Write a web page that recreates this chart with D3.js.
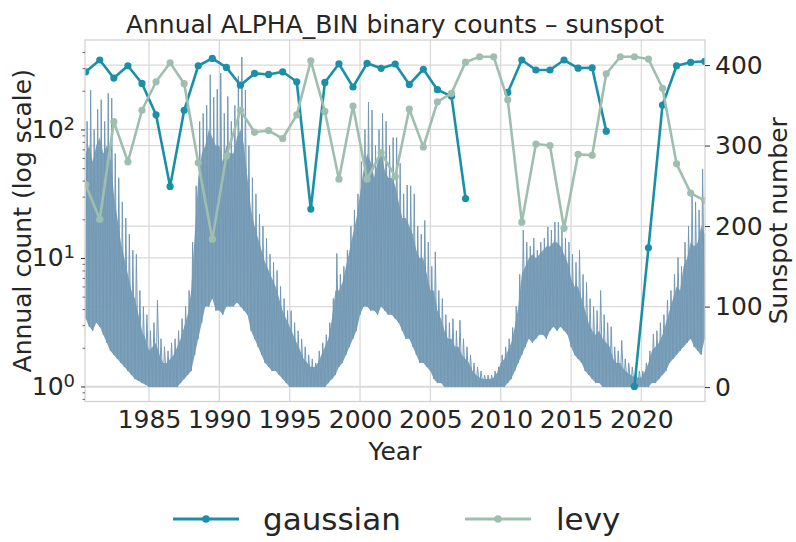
<!DOCTYPE html>
<html><head><meta charset="utf-8">
<script src="https://cdn.jsdelivr.net/npm/d3@7"></script>
<style>
body{margin:0;background:#fff;}
text{font-family:"DejaVu Sans",sans-serif;fill:#262626;}
</style>
</head><body>
<svg id="c" width="796" height="542"></svg>
<script>
// ---------- data ----------
const years = [1980,1981,1982,1983,1984,1985,1986,1987,1988,1989,
               1990,1991,1992,1993,1994,1995,1996,1997,1998,1999,
               2000,2001,2002,2003,2004,2005,2006,2007,2008,2009,
               2010,2011,2012,2013,2014,2015,2016,2017,2018,2019,
               2020,2021,2022,2023,2024];
const gaussian = [281,347,251,313,228,130,36,141,313,357,
                  304,221,273,268,281,235,24,232,324,214,
                  327,299,323,224,294,204,181,29,null,null,
                  194,347,290,290,347,300,302,97,null,1,
                  12,155,313,333,339];
const levy = [37,20,115,56,141,235,330,227,55,14,
              62,141,95,98,85,130,342,138,41,152,
              41,66,43,144,73,164,191,334,368,368,
              170,19,77,75,17,64,63,271,368,368,
              353,209,54,32,28];
// sunspot number, quarter-year samples from 1980.5:
// spike tops, top of the dense band, and bottom of the band
const sunStart = 1980.5, sunStep = 0.25;
const sunHigh = [330,369,
  320,345,357,330, 365,359,290,260, 230,210,190,170, 165,120,100,90,
  70,80,108,60, 50,45,55,60, 70,85,100,120, 180,250,330,340,
  350,388,360,370, 390,340,361,330, 350,386,410,369, 300,260,240,215,
  200,185,165,155, 145,125,110,95, 95,80,70,60, 50,40,35,30,
  45,55,65,80, 110,166,140,150, 170,200,220,240, 280,320,354,344,
  300,320,340,330, 300,310,310,278, 240,251,250,240, 200,190,207,180,
  150,168,120,110, 90,80,85,70, 83,60,50,40, 30,25,20,15,
  15,15,20,25, 40,50,60,74, 100,140,195,180, 175,185,170,180,
  185,199,195,205, 205,195,185,180, 165,155,170,140, 130,110,100,95,
  120,90,80,75, 50,45,58,35, 30,25,20,20, 20,30,45,66,
  70,80,90,108, 120,140,161,150, 180,200,240,230, 220,271,250];
const sunDense = [290,300,
  280,300,310,290, 300,290,240,210, 180,160,140,120, 110,90,70,60,
  45,50,55,40, 30,30,35,40, 50,60,75,90, 120,190,260,290,
  300,320,310,300, 300,280,300,290, 290,310,320,300, 260,220,200,185,
  170,155,145,135, 125,110,95,85, 75,65,55,45, 35,30,25,25,
  30,40,50,60, 85,120,120,130, 150,170,190,210, 240,270,290,280,
  260,280,290,270, 260,260,250,230, 210,210,200,190, 170,160,160,140,
  120,120,95,85, 70,60,60,50, 50,40,35,30, 20,15,12,10,
  10,10,12,18, 30,35,45,55, 75,100,140,150, 160,165,160,165,
  170,175,175,180, 180,175,165,155, 135,125,125,110, 95,80,70,65,
  70,60,55,50, 35,30,30,22, 18,15,12,12, 12,20,30,45,
  50,55,65,80, 95,110,125,120, 150,160,180,175, 180,200,190];
const sunLow = [85,75,
  70,80,75,65, 55,45,40,35, 30,25,20,15, 10,8,5,3,
  0,0,0,0, 0,0,0,0, 0,5,10,15, 20,40,60,80,
  100,100,110,95, 95,90,100,100, 100,105,100,95, 90,70,60,50,
  40,30,25,20, 20,15,10,5, 0,0,0,0, 0,0,0,0,
  0,0,0,5, 10,15,25,30, 40,50,60,70, 90,100,100,95,
  95,90,100,95, 90,90,85,80, 70,60,60,50, 40,30,30,25,
  20,10,5,5, 0,0,0,0, 0,0,0,0, 0,0,0,0,
  0,0,0,0, 0,0,5,10, 20,30,40,50, 60,55,60,65,
  65,60,70,75, 70,75,70,65, 50,40,35,30, 20,15,10,5,
  5,0,0,0, 0,0,0,0, 0,0,0,0, 0,0,0,5,
  5,10,15,20, 30,35,40,45, 50,55,60,50, 45,40,60];
const xTicks = [1985,1990,1995,2000,2005,2010,2015,2020];
const yLeftTicks = [1,10,100];
const yLeftExp = ["0","1","2"];
const yRightTicks = [0,100,200,300,400];
const seriesNames = ["gaussian","levy"];
const colors = {gaussian:"#1a8fa8", levy:"#9ebfb0", sun:"#7399b4"};

// ---------- layout ----------
const svg = d3.select("#c");
const m = {l:85, r:705, t:40, b:401.5};
const x = d3.scaleLinear().domain([1980.45, 2024.52]).range([m.l, m.r]);
const yL = d3.scaleLog().domain([Math.pow(10,-0.117), Math.pow(10,2.696)]).range([m.b, m.t]);
const yR = d3.scaleLinear().domain([-17.9, 431.1]).range([m.b, m.t]);
const gridCol = "#d9d9d9";

svg.append("defs").append("clipPath").attr("id","clip")
  .append("rect").attr("x",m.l).attr("y",m.t).attr("width",m.r-m.l).attr("height",m.b-m.t);

// grid
const grid = svg.append("g");
grid.selectAll(".gx").data(xTicks).join("line")
  .attr("x1",d=>x(d)).attr("x2",d=>x(d)).attr("y1",m.t).attr("y2",m.b)
  .attr("stroke",gridCol).attr("stroke-width",1.3);
grid.selectAll(".gl").data(yLeftTicks).join("line")
  .attr("x1",m.l).attr("x2",m.r).attr("y1",d=>yL(d)).attr("y2",d=>yL(d))
  .attr("stroke",gridCol).attr("stroke-width",1.3);
grid.selectAll(".gr").data(yRightTicks).join("line")
  .attr("x1",m.l).attr("x2",m.r).attr("y1",d=>yR(d)).attr("y2",d=>yR(d))
  .attr("stroke",gridCol).attr("stroke-width",1.3);

// sunspot
const sunRows = sunHigh.map((h,i)=>({t:sunStart+i*sunStep, hi:h, mid:sunDense[i], lo:sunLow[i]}));
const sg = svg.append("g").attr("clip-path","url(#clip)");
sg.append("path")
  .attr("d", d3.area().x(d=>x(d.t)).y0(d=>yR(d.lo)).y1(d=>yR(d.mid))(sunRows))
  .attr("fill",colors.sun).attr("fill-opacity",0.92);
const zig = [];
sunRows.forEach(d=>{
  zig.push([x(d.t), yR(d.lo)]);
  zig.push([x(d.t + sunStep*0.4), yR(d.hi)]);
});
sg.append("path").attr("d", d3.line()(zig))
  .attr("fill","none").attr("stroke",colors.sun).attr("stroke-width",1)
  .attr("stroke-linejoin","miter").attr("stroke-miterlimit",2);

// series lines
const seriesData = {gaussian, levy};
seriesNames.forEach(name=>{
  const vals = seriesData[name];
  const pts = years.map((yr,i)=>({t:yr+0.5, v:vals[i]}));
  const line = d3.line().defined(d=>d.v!=null).x(d=>x(d.t)).y(d=>yL(d.v));
  const g = svg.append("g").attr("clip-path","url(#clip)");
  g.append("path").attr("d",line(pts)).attr("fill","none")
    .attr("stroke",colors[name]).attr("stroke-width",2.6).attr("stroke-linejoin","round");
  g.selectAll("circle").data(pts.filter(d=>d.v!=null)).join("circle")
    .attr("cx",d=>x(d.t)).attr("cy",d=>yL(d.v)).attr("r",3.6).attr("fill",colors[name]);
});

// frame
svg.append("rect").attr("x",m.l).attr("y",m.t).attr("width",m.r-m.l).attr("height",m.b-m.t)
  .attr("fill","none").attr("stroke","#cfcfcf").attr("stroke-width",1.2);

// x axis labels
const xAxis = svg.append("g").attr("transform",`translate(0,${m.b})`)
  .call(d3.axisBottom(x).tickValues(xTicks).tickSize(0).tickPadding(9).tickFormat(d3.format("d")));
xAxis.select(".domain").remove();
xAxis.selectAll("text").attr("font-size",25).attr("fill","#262626").attr("font-family","DejaVu Sans");

// left axis
const lAxis = svg.append("g").attr("transform",`translate(${m.l},0)`)
  .call(d3.axisLeft(yL).tickValues(yLeftTicks).tickSize(4).tickPadding(6).tickFormat(()=>""));
lAxis.select(".domain").remove();
lAxis.selectAll("line").attr("stroke","#333").attr("stroke-width",1);
lAxis.selectAll("text").each(function(d,i){
  const t = d3.select(this).attr("font-size",25).attr("font-family","DejaVu Sans").attr("fill","#262626");
  t.text(null);
  t.append("tspan").text("10");
  t.append("tspan").attr("dy","-0.45em").attr("font-size",18).text(yLeftExp[i]);
});
const minor = [];
[0.1,1,10,100].forEach(b=>{ for(let k=2;k<=9;k++) minor.push(b*k); });
const minorIn = minor.filter(v=>v>=yL.domain()[0] && v<=yL.domain()[1]);
const mAxis = svg.append("g").attr("transform",`translate(${m.l},0)`)
  .call(d3.axisLeft(yL).tickValues(minorIn).tickSize(2.5).tickFormat(()=>""));
mAxis.select(".domain").remove();
mAxis.selectAll("line").attr("stroke","#444").attr("stroke-width",0.8);

// right axis
const rAxis = svg.append("g").attr("transform",`translate(${m.r},0)`)
  .call(d3.axisRight(yR).tickValues(yRightTicks).tickSize(5).tickPadding(5).tickFormat(d3.format("d")));
rAxis.select(".domain").remove();
rAxis.selectAll("line").attr("stroke","#333").attr("stroke-width",1);
rAxis.selectAll("text").attr("font-size",25).attr("fill","#262626").attr("font-family","DejaVu Sans");

// titles
svg.append("text").attr("x",(m.l+m.r)/2).attr("y",33).attr("text-anchor","middle")
  .attr("font-size",25).text("Annual ALPHA_BIN binary counts – sunspot");
svg.append("text").attr("x",(m.l+m.r)/2).attr("y",460).attr("text-anchor","middle")
  .attr("font-size",25).text("Year");
svg.append("text").attr("transform",`translate(31,${(m.t+m.b)/2}) rotate(-90)`).attr("text-anchor","middle")
  .attr("font-size",25).text("Annual count (log scale)");
svg.append("text").attr("transform",`translate(787,${(m.t+m.b)/2}) rotate(-90)`).attr("text-anchor","middle")
  .attr("font-size",25).text("Sunspot number");

// legend
const leg = [{name:"gaussian", x1:173, tx:263},{name:"levy", x1:465, tx:556}];
const lg = svg.append("g");
leg.forEach(d=>{
  lg.append("line").attr("x1",d.x1).attr("x2",d.x1+66).attr("y1",519).attr("y2",519)
    .attr("stroke",colors[d.name]).attr("stroke-width",2.8);
  lg.append("circle").attr("cx",d.x1+33).attr("cy",519).attr("r",3.8).attr("fill",colors[d.name]);
  lg.append("text").attr("x",d.tx).attr("y",530).attr("font-size",31).text(d.name);
});
</script>
</body></html>
